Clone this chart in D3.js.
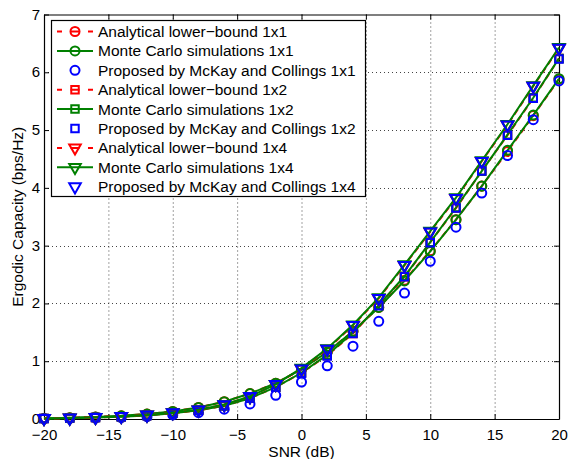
<!DOCTYPE html>
<html>
<head>
<meta charset="utf-8">
<script src="https://cdn.jsdelivr.net/npm/d3@7"></script>
<style>
  body { margin: 0; background: #fff; }
  text { font-family: "Liberation Sans", Arial, Helvetica, sans-serif; }
</style>
</head>
<body>
<script>
const snr = [-20, -18, -16, -14, -12, -10, -8, -6, -4, -2, 0, 2, 4, 6, 8, 10, 12, 14, 16, 18, 20];

// 1x1
const analytical1x1 = [0.01, 0.02, 0.035, 0.055, 0.085, 0.13, 0.20, 0.30, 0.44, 0.62, 0.86, 1.16, 1.52, 1.93, 2.40, 2.91, 3.45, 4.03, 4.63, 5.25, 5.88];
const monteCarlo1x1 = [0.01, 0.02, 0.035, 0.055, 0.085, 0.13, 0.20, 0.30, 0.44, 0.62, 0.86, 1.16, 1.52, 1.93, 2.39, 2.90, 3.45, 4.03, 4.65, 5.26, 5.89];
const mckay1x1 = [0.005, 0.01, 0.015, 0.025, 0.04, 0.07, 0.11, 0.17, 0.26, 0.41, 0.64, 0.92, 1.26, 1.69, 2.18, 2.73, 3.32, 3.91, 4.56, 5.18, 5.85];

// 1x2
const analytical1x2 = [0.01, 0.015, 0.025, 0.04, 0.06, 0.10, 0.15, 0.23, 0.36, 0.55, 0.80, 1.10, 1.48, 1.97, 2.46, 3.06, 3.65, 4.29, 4.91, 5.55, 6.24];
const monteCarlo1x2 = [0.01, 0.015, 0.025, 0.04, 0.06, 0.10, 0.15, 0.23, 0.36, 0.55, 0.80, 1.11, 1.49, 1.97, 2.47, 3.06, 3.66, 4.29, 4.92, 5.56, 6.24];
const mckay1x2 = [0.01, 0.015, 0.025, 0.04, 0.06, 0.10, 0.15, 0.23, 0.36, 0.55, 0.79, 1.09, 1.48, 1.96, 2.46, 3.05, 3.65, 4.29, 4.91, 5.55, 6.23];

// 1x4
const analytical1x4 = [0.01, 0.018, 0.03, 0.045, 0.07, 0.11, 0.16, 0.25, 0.39, 0.60, 0.87, 1.21, 1.62, 2.09, 2.66, 3.24, 3.82, 4.46, 5.09, 5.76, 6.42];
const monteCarlo1x4 = [0.01, 0.018, 0.03, 0.045, 0.07, 0.11, 0.16, 0.25, 0.39, 0.60, 0.88, 1.22, 1.63, 2.10, 2.67, 3.25, 3.83, 4.47, 5.10, 5.77, 6.43];
const mckay1x4 = [0.01, 0.018, 0.03, 0.045, 0.07, 0.11, 0.16, 0.25, 0.39, 0.60, 0.87, 1.21, 1.62, 2.09, 2.66, 3.24, 3.82, 4.46, 5.09, 5.76, 6.42];

const xTicks = [-20, -15, -10, -5, 0, 5, 10, 15, 20];
const yTicks = [0, 1, 2, 3, 4, 5, 6, 7];

const legendLabels = [
  "Analytical lower\u2212bound 1x1",
  "Monte Carlo simulations 1x1",
  "Proposed by McKay and Collings 1x1",
  "Analytical lower\u2212bound 1x2",
  "Monte Carlo simulations 1x2",
  "Proposed by McKay and Collings 1x2",
  "Analytical lower\u2212bound 1x4",
  "Monte Carlo simulations 1x4",
  "Proposed by McKay and Collings 1x4"
];

const w = 571;
const h = 459;
const plotL = 44, plotR = 559, plotT = 14.5, plotB = 419;
const fontSize = "15.5px";
const tickFont = "15px";

const red = "#ff0000";
const green = "#008000";
const blue = "#0000ff";

const series = [
  { values: analytical1x1, color: red, dash: "6,4", line: true, shape: "circle" },
  { values: monteCarlo1x1, color: green, dash: null, line: true, shape: "circle" },
  { values: mckay1x1, color: blue, dash: null, line: false, shape: "circle" },
  { values: analytical1x2, color: red, dash: "6,4", line: true, shape: "square" },
  { values: monteCarlo1x2, color: green, dash: null, line: true, shape: "square" },
  { values: mckay1x2, color: blue, dash: null, line: false, shape: "square" },
  { values: analytical1x4, color: red, dash: "6,4", line: true, shape: "triangle" },
  { values: monteCarlo1x4, color: green, dash: null, line: true, shape: "triangle" },
  { values: mckay1x4, color: blue, dash: null, line: false, shape: "triangle" }
];

const xScale = d3.scaleLinear().domain([-20, 20]).range([plotL, plotR]);
const yScale = d3.scaleLinear().domain([0, 7]).range([plotB, plotT]);

const svg = d3.select("body")
  .append("svg")
  .attr("width", w)
  .attr("height", h);

// grid
svg.append("g")
  .selectAll("line")
  .data(xTicks.slice(1, -1))
  .enter()
  .append("line")
  .attr("x1", d => xScale(d) + 0.5)
  .attr("x2", d => xScale(d) + 0.5)
  .attr("y1", plotT)
  .attr("y2", plotB)
  .attr("stroke", "#444")
  .attr("stroke-width", 1)
  .attr("stroke-dasharray", "1,3");

svg.append("g")
  .selectAll("line")
  .data(yTicks.slice(1, -1))
  .enter()
  .append("line")
  .attr("x1", plotL)
  .attr("x2", plotR)
  .attr("y1", d => Math.round(yScale(d)) + 0.5)
  .attr("y2", d => Math.round(yScale(d)) + 0.5)
  .attr("stroke", "#444")
  .attr("stroke-width", 1)
  .attr("stroke-dasharray", "1,3");

// frame with inward ticks
const xAxisBottom = d3.axisBottom(xScale).tickValues(xTicks).tickSizeInner(-5).tickSizeOuter(0)
  .tickFormat(d => d < 0 ? "\u2212" + Math.abs(d) : d);
const xAxisTop = d3.axisTop(xScale).tickValues(xTicks).tickSizeInner(-5).tickSizeOuter(0).tickFormat("");
const yAxisLeft = d3.axisLeft(yScale).tickValues(yTicks).tickSizeInner(-5).tickSizeOuter(0).tickFormat(d3.format("d"));
const yAxisRight = d3.axisRight(yScale).tickValues(yTicks).tickSizeInner(-5).tickSizeOuter(0).tickFormat("");

const gxb = svg.append("g").attr("transform", `translate(0,${plotB})`).call(xAxisBottom);
const gxt = svg.append("g").attr("transform", `translate(0,${plotT})`).call(xAxisTop);
const gyl = svg.append("g").attr("transform", `translate(${plotL},0)`).call(yAxisLeft);
const gyr = svg.append("g").attr("transform", `translate(${plotR},0)`).call(yAxisRight);

[gxb, gxt, gyl, gyr].forEach(g => {
  g.select(".domain").attr("stroke", "#000").attr("stroke-width", 1.2);
  g.selectAll(".tick line").attr("stroke", "#000");
  g.selectAll("text").attr("fill", "#000").style("font-size", tickFont)
    .style("font-family", "'Liberation Sans', Arial, sans-serif");
});
gxb.selectAll("text").attr("dy", "0.71em").attr("y", 10);
gyl.selectAll("text").attr("x", -4).attr("dy", "0.3em");

// axis titles
svg.append("text")
  .attr("x", (plotL + plotR) / 2)
  .attr("y", 456.5)
  .attr("text-anchor", "middle")
  .style("font-size", fontSize)
  .text("SNR (dB)");

svg.append("text")
  .attr("text-anchor", "middle")
  .attr("transform", `translate(23,${(plotT + plotB) / 2})rotate(-90)`)
  .style("font-size", fontSize)
  .text("Ergodic Capacity (bps/Hz)");

const symbolFor = {
  circle: d3.symbol().type(d3.symbolCircle).size(64),
  square: d3.symbol().type(d3.symbolSquare).size(56),
  triangle: d3.symbol().type(d3.symbolTriangle).size(58)
};

const line = d3.line()
  .x((d, i) => xScale(snr[i]))
  .y(d => yScale(d));

const drawMarkers = (g, s, points) => {
  g.selectAll("path.mk")
    .data(points)
    .enter()
    .append("path")
    .attr("class", "mk")
    .attr("d", symbolFor[s.shape]())
    .attr("transform", d => `translate(${d[0]},${d[1]})` + (s.shape === "triangle" ? "rotate(180)" : ""))
    .attr("fill", "none")
    .attr("stroke", s.color)
    .attr("stroke-width", 2);
};

series.forEach(s => {
  const g = svg.append("g");
  if (s.line) {
    g.append("path")
      .datum(s.values)
      .attr("d", line)
      .attr("fill", "none")
      .attr("stroke", s.color)
      .attr("stroke-width", 2)
      .attr("stroke-dasharray", s.dash);
  }
  drawMarkers(g, s, s.values.map((v, i) => [xScale(snr[i]), yScale(v)]));
});

// legend
const legX = 51, legY = 20, legW = 314, rowH = 19.4;
const legend = svg.append("g");
legend.append("rect")
  .attr("x", legX + 0.5)
  .attr("y", legY + 0.5)
  .attr("width", legW)
  .attr("height", 176)
  .attr("fill", "#fff")
  .attr("stroke", "#000")
  .attr("stroke-width", 1.2);

const rows = legend.selectAll(".leg")
  .data(series)
  .enter()
  .append("g")
  .attr("class", "leg")
  .attr("transform", (d, i) => `translate(${legX}, ${legY + 11.5 + i * rowH})`);

rows.filter(d => d.line)
  .append("line")
  .attr("x1", 6)
  .attr("x2", 42)
  .attr("stroke", d => d.color)
  .attr("stroke-width", 2)
  .attr("stroke-dasharray", d => d.dash ? "5,8.5,9,8.5,5" : null);

rows.each(function (d) {
  drawMarkers(d3.select(this), d, [[24, 0]]);
});

rows.append("text")
  .attr("x", 47)
  .attr("y", 0)
  .attr("dy", "0.35em")
  .style("font-size", fontSize)
  .text((d, i) => legendLabels[i]);
</script>
</body>
</html>
